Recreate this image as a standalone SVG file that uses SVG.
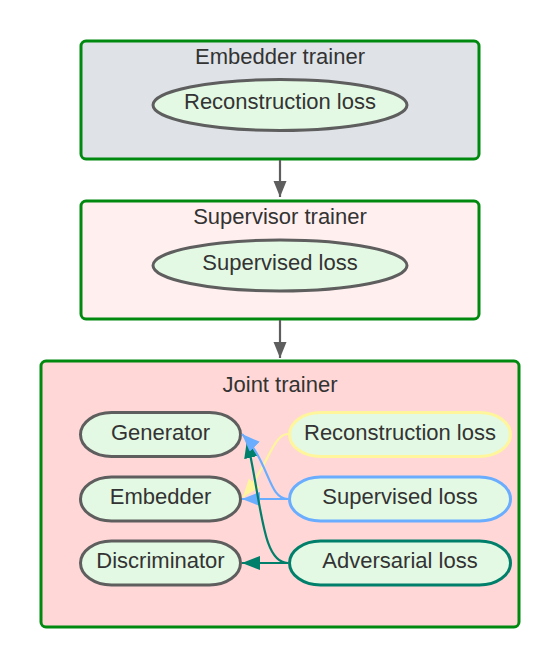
<svg xmlns="http://www.w3.org/2000/svg" width="560" height="668" viewBox="0 0 560 668">
<style>
text{font-family:"Liberation Sans",Arial,sans-serif;font-size:22px;fill:#333333;text-anchor:middle}
.box{stroke:#00890f;stroke-width:3}
.node{fill:#e3f9e3;stroke-width:3}
.gray{stroke:#5e5e5e}
.conn{fill:none;stroke-width:2.2}
</style>
<defs>
<marker id="ah-gray" markerUnits="userSpaceOnUse" markerWidth="18" markerHeight="14" refX="16" refY="6.5" orient="auto"><path d="M0,0 L16,6.5 L0,13 Z" fill="#5e5e5e"/></marker>
<marker id="ah-teal" markerUnits="userSpaceOnUse" markerWidth="20" markerHeight="16" refX="18" refY="7" orient="auto"><path d="M0,0 L18,7 L0,14 Z" fill="#007f6a"/></marker>
<marker id="ah-blue" markerUnits="userSpaceOnUse" markerWidth="20" markerHeight="16" refX="18" refY="7" orient="auto"><path d="M0,0 L18,7 L0,14 Z" fill="#6aadff"/></marker>
<marker id="ah-yellow" markerUnits="userSpaceOnUse" markerWidth="20" markerHeight="16" refX="18" refY="7" orient="auto"><path d="M0,0 L18,7 L0,14 Z" fill="#fff59d"/></marker>
</defs>
<g id="embedder-trainer">
<rect class="box" x="81" y="41" width="398" height="118" rx="5" fill="#dfe3e8"/>
<text x="280" y="63.5">Embedder trainer</text>
</g>
<g id="embedder-recon-loss">
<ellipse class="node gray" cx="280" cy="105" rx="127" ry="25.5"/>
<text x="280" y="109">Reconstruction loss</text>
</g>
<g id="supervisor-trainer">
<rect class="box" x="81" y="201" width="398" height="118" rx="5" fill="#fff0ef"/>
<text x="280" y="223.5">Supervisor trainer</text>
</g>
<g id="supervisor-sup-loss">
<ellipse class="node gray" cx="280" cy="265.5" rx="127" ry="25.5"/>
<text x="280" y="269.5">Supervised loss</text>
</g>
<g id="joint-trainer">
<rect class="box" x="41" y="361" width="478" height="266" rx="5" fill="#ffd7d7"/>
<text x="280" y="391.5">Joint trainer</text>
</g>
<g id="generator">
<rect class="node gray" x="80.5" y="412.5" width="160" height="44" rx="31" ry="22"/>
<text x="160.5" y="439.5">Generator</text>
</g>
<g id="embedder">
<rect class="node gray" x="80.5" y="477" width="160" height="44" rx="31" ry="22"/>
<text x="160.5" y="504">Embedder</text>
</g>
<g id="discriminator">
<rect class="node gray" x="80.5" y="541" width="160" height="44" rx="31" ry="22"/>
<text x="160.5" y="568">Discriminator</text>
</g>
<g id="reconstruction-loss">
<rect class="node" stroke="#fff59d" x="289.5" y="412.5" width="221" height="44" rx="31" ry="22"/>
<text x="400" y="439.5">Reconstruction loss</text>
</g>
<g id="supervised-loss">
<rect class="node" stroke="#6aadff" x="289.5" y="477" width="221" height="44" rx="31" ry="22"/>
<text x="400" y="504">Supervised loss</text>
</g>
<g id="adversarial-loss">
<rect class="node" stroke="#007f6a" x="289.5" y="541" width="221" height="44" rx="31" ry="22"/>
<text x="400" y="568">Adversarial loss</text>
</g>
<g id="connectors">
<path class="conn" stroke="#5e5e5e" d="M280,160 L280,197" marker-end="url(#ah-gray)"/>
<path class="conn" stroke="#5e5e5e" d="M280,320 L280,358" marker-end="url(#ah-gray)"/>
<path class="conn" stroke="#fff59d" d="M288,434 C273,434 268,466 243,497" marker-end="url(#ah-yellow)"/>
<path class="conn" stroke="#6aadff" d="M288,499 L242,499" marker-end="url(#ah-blue)"/>
<path class="conn" stroke="#007f6a" stroke-width="2.5" d="M288,563 L242,563" marker-end="url(#ah-teal)"/>
<path class="conn" stroke="#007f6a" stroke-width="2.5" d="M288,563 C262,563 262,505 247,440" marker-end="url(#ah-teal)"/>
<path class="conn" stroke="#6aadff" d="M288,499 C268,499 270,462 242,434" marker-end="url(#ah-blue)"/>
</g>
</svg>
